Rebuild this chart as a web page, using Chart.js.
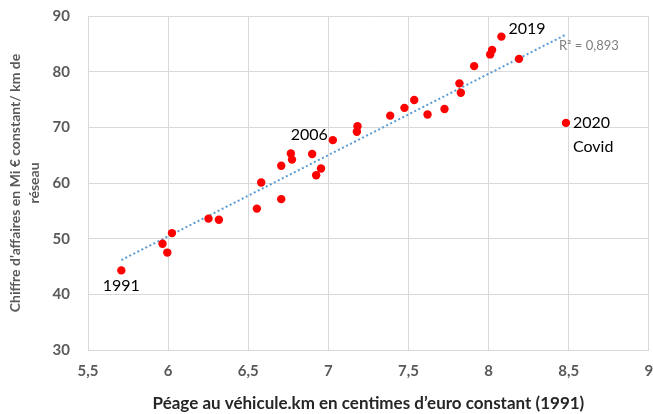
<!DOCTYPE html>
<html>
<head>
<meta charset="utf-8">
<script src="https://cdn.jsdelivr.net/npm/chart.js@4"></script>
<style>
    body { margin: 0; background: #fff; }
</style>
</head>
<body>
<canvas id="peageChart" width="653" height="414"></canvas>
<script>
// toll per vehicle.km (cents of constant 1991 euro) and revenue per km of network
const peage = [5.708, 5.965, 5.995, 6.024, 6.252, 6.317, 6.554, 6.581, 6.706, 6.706,
    6.766, 6.773, 6.899, 6.924, 6.954, 7.028, 7.178, 7.182, 7.386, 7.475,
    7.536, 7.619, 7.725, 7.818, 7.827, 7.910, 8.010, 8.022, 8.080, 8.190, 8.483];
const chiffre = [44.3, 49.1, 47.5, 51.0, 53.6, 53.4, 55.4, 60.1, 57.1, 63.1,
    65.3, 64.2, 65.2, 61.4, 62.6, 67.7, 69.2, 70.2, 72.1, 73.5,
    74.9, 72.3, 73.3, 77.9, 76.2, 81.0, 83.1, 83.9, 86.3, 82.3, 70.8];
const xTicks = [5.5, 6, 6.5, 7, 7.5, 8, 8.5, 9];
const yTicks = [30, 40, 50, 60, 70, 80, 90];
const pointNotes = [
    { idx: 0, lines: ['1991'] },
    { idx: 15, lines: ['2006'] },
    { idx: 28, lines: ['2019'] },
    { idx: 30, lines: ['2020', 'Covid'] }
];
const r2Text = 'R² = 0,893';

// linear trend (least squares)
function linearFit(xs, ys) {
    const n = xs.length;
    const mx = xs.reduce((a, b) => a + b, 0) / n;
    const my = ys.reduce((a, b) => a + b, 0) / n;
    let sxy = 0, sxx = 0;
    for (let i = 0; i < n; i++) {
        sxy += (xs[i] - mx) * (ys[i] - my);
        sxx += (xs[i] - mx) * (xs[i] - mx);
    }
    const b = sxy / sxx;
    return { a: my - b * mx, b: b };
}
const fit = linearFit(peage, chiffre);
const xMin = Math.min(...peage), xMax = Math.max(...peage);
const trend = [
    { x: xMin, y: fit.a + fit.b * xMin },
    { x: xMax, y: fit.a + fit.b * xMax }
];

const annotations = {
    id: 'annotations',
    afterDatasetsDraw(chart) {
        const ctx = chart.ctx;
        const xs = chart.scales.x, ys = chart.scales.y;
        const offsets = {
            0: { dx: 0, dy: 15, align: 'center' },
            15: { dx: -5, dy: -5, align: 'right' },
            28: { dx: 7, dy: -8, align: 'left' },
            30: { dx: 7, dy: 0, align: 'left' }
        };
        ctx.save();
        ctx.font = '16px Lato';
        ctx.fillStyle = '#000';
        ctx.textBaseline = 'middle';
        pointNotes.forEach(note => {
            const o = offsets[note.idx];
            const px = xs.getPixelForValue(peage[note.idx]);
            const py = ys.getPixelForValue(chiffre[note.idx]);
            ctx.textAlign = o.align;
            note.lines.forEach((t, k) => {
                ctx.fillText(t, px + o.dx, py + o.dy + k * 23.5);
            });
        });
        // R² next to the end of the trend line
        const ex = xs.getPixelForValue(trend[1].x);
        const ey = ys.getPixelForValue(trend[1].y);
        ctx.font = '13px Lato';
        ctx.fillStyle = '#7f7f7f';
        ctx.textAlign = 'left';
        ctx.fillText(r2Text, ex - 7, ey + 11);
        ctx.restore();
    }
};

const ctx = document.getElementById('peageChart');

new Chart(ctx, {
    type: 'scatter',
    data: {
        datasets: [{
            label: 'Trend',
            data: trend,
            showLine: true,
            borderColor: '#5b9bd5',
            borderWidth: 2,
            borderDash: [2, 2.5],
            pointRadius: 0,
            order: 2
        }, {
            label: 'Chiffre',
            data: peage.map((x, i) => ({ x: x, y: chiffre[i] })),
            backgroundColor: '#ff0000',
            borderWidth: 0,
            pointRadius: 4.2,
            order: 1
        }]
    },
    options: {
        responsive: false,
        animation: false,
        layout: {
            padding: { top: 16, right: 4, left: 0, bottom: 0 }
        },
        plugins: {
            legend: { display: false },
            tooltip: { enabled: false }
        },
        scales: {
            x: {
                type: 'linear',
                min: 5.5,
                max: 9,
                afterBuildTicks: axis => { axis.ticks = xTicks.map(v => ({ value: v })); },
                afterFit: axis => {
                    axis.height = 64;
                    axis.paddingLeft = 0;
                    axis.paddingRight = 0;
                },
                grid: { color: '#d9d9d9', lineWidth: 1, drawTicks: false },
                border: { color: '#d9d9d9' },
                ticks: {
                    padding: 12,
                    color: '#595959',
                    font: { family: 'Lato', size: 15, weight: 'bold' },
                    callback: v => String(v).replace('.', ',')
                },
                title: {
                    display: true,
                    text: 'Péage au véhicule.km en centimes d’euro constant (1991)',
                    color: '#262626',
                    font: { family: 'Lato', size: 17, weight: 'bold' },
                    padding: { top: 7, bottom: 0 }
                }
            },
            y: {
                min: 30,
                max: 90,
                afterBuildTicks: axis => { axis.ticks = yTicks.map(v => ({ value: v })); },
                afterFit: axis => {
                    axis.width = 88;
                    axis.paddingTop = 0;
                    axis.paddingBottom = 0;
                },
                grid: { color: '#d9d9d9', lineWidth: 1, drawTicks: false },
                border: { color: '#d9d9d9' },
                ticks: {
                    padding: 18,
                    color: '#595959',
                    font: { family: 'Lato', size: 15, weight: 'bold' }
                },
                title: {
                    display: true,
                    text: ["Chiffre d'affaires en Mi € constant/ km de", 'réseau'],
                    color: '#595959',
                    font: { family: 'Lato', size: 14, weight: 'bold', lineHeight: 1.35 },
                    padding: { top: 6, bottom: 0 }
                }
            }
        }
    },
    plugins: [annotations]
});
</script>
</body>
</html>
